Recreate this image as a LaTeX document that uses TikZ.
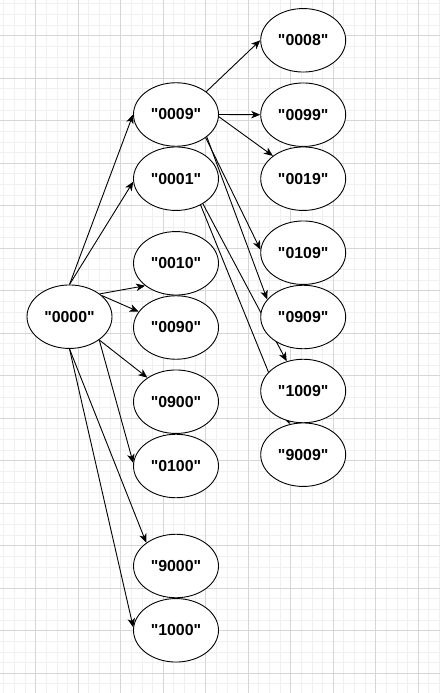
\documentclass[tikz,border=0pt]{standalone}
\usepackage{fontspec}
\newfontfamily\labfont{Liberation Sans}
\usetikzlibrary{arrows.meta,shapes.geometric}
\definecolor{minorgrid}{RGB}{240,240,240}
\definecolor{majorgrid}{RGB}{214,214,214}
\pgfdeclarelayer{bg}
\pgfdeclarelayer{edges}
\pgfsetlayers{bg,edges,main}
\begin{document}
\begin{tikzpicture}[x=1pt,y=-1pt,
  st/.style={ellipse, draw, fill=white, minimum width=85pt, minimum height=63.5pt,
    inner sep=0pt, line width=0.9pt, font=\labfont\fontsize{15.9}{18}\selectfont\bfseries},
  ar/.style={-{Stealth[length=9pt,width=7.5pt,inset=2.5pt]}, line width=0.9pt}]
\useasboundingbox (0,0) rectangle (440,693);
\begin{pgfonlayer}{bg}
  \fill[white] (0,0) rectangle (440,693);
  \foreach \i in {0,...,41} \draw[minorgrid, line width=0.8pt] (3.8+10.625*\i,0) -- (3.8+10.625*\i,693);
  \foreach \i in {0,...,64} \draw[minorgrid, line width=0.8pt] (0,3.8+10.625*\i) -- (440,3.8+10.625*\i);
  \foreach \k in {0,...,9} \draw[majorgrid, line width=1pt] (35.7+42.5*\k,0) -- (35.7+42.5*\k,693);
  \foreach \k in {0,...,15} \draw[majorgrid, line width=1pt] (0,35.7+42.5*\k) -- (440,35.7+42.5*\k);
\end{pgfonlayer}

\node[st] (n0000) at (69.5,316.7) {"0000"};
\node[st] (n0009) at (176,114.5) {"0009"};
\node[st] (n0001) at (176,178.7) {"0001"};
\node[st] (n0010) at (176,263.3) {"0010"};
\node[st] (n0090) at (176,327.5) {"0090"};
\node[st] (n0900) at (176,401.7) {"0900"};
\node[st] (n0100) at (176,466) {"0100"};
\node[st] (n9000) at (176,566) {"9000"};
\node[st] (n1000) at (176,630.3) {"1000"};
\node[st] (n0008) at (303.2,40.3) {"0008"};
\node[st] (n0099) at (303.2,114.7) {"0099"};
\node[st] (n0019) at (303.2,178.7) {"0019"};
\node[st] (n0109) at (303.2,252.7) {"0109"};
\node[st] (n0909) at (303.2,317) {"0909"};
\node[st] (n1009) at (303.2,391) {"1009"};
\node[st] (n9009) at (303.2,454.7) {"9009"};

\begin{pgfonlayer}{edges}
  \draw[ar] (n0000.north) -- (n0009.west);
  \draw[ar] (n0000.north) -- (n0001.184);
  \draw[ar] (n0000.37) -- (n0010.216);
  \draw[ar] (n0000.33) -- (n0090.157);
  \draw[ar] (n0000.-38) -- (n0900.140);
  \draw[ar] (n0000.-38) -- (n0100.176);
  \draw[ar] (n0000.south) -- (n9000.142);
  \draw[ar] (n0000.south) -- (n1000.176);
  \draw[ar] (n0009.37) -- (n0008.west);
  \draw[ar] (n0009.east) -- (n0099.west);
  \draw[ar] (n0009.-3) -- (n0019.143);
  \draw[ar] (n0009.-38) -- (n0109.176);
  \draw[ar] (n0009.-36) -- (n0909.154);
  \draw[ar] (n0001.-43) -- (n1009.119);
  \draw[ar] (n0001.-47) -- (n9009.114);
\end{pgfonlayer}
\end{tikzpicture}
\end{document}
